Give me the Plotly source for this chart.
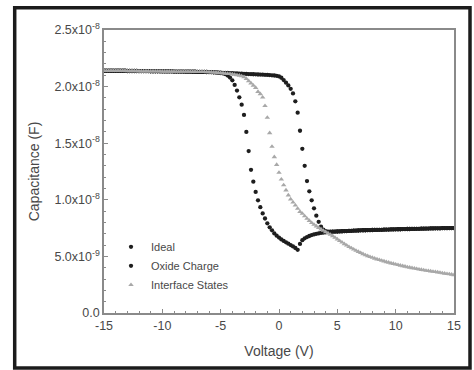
import numpy as np
import plotly.graph_objects as go

# Voltage sweep (V), step 0.2 V
voltage = [
    -15.0, -14.8, -14.6, -14.4, -14.2, -14.0, -13.8, -13.6, -13.4, -13.2,
    -13.0, -12.8, -12.6, -12.4, -12.2, -12.0, -11.8, -11.6, -11.4, -11.2,
    -11.0, -10.8, -10.6, -10.4, -10.2, -10.0, -9.8, -9.6, -9.4, -9.2,
    -9.0, -8.8, -8.6, -8.4, -8.2, -8.0, -7.8, -7.6, -7.4, -7.2,
    -7.0, -6.8, -6.6, -6.4, -6.2, -6.0, -5.8, -5.6, -5.4, -5.2,
    -5.0, -4.8, -4.6, -4.4, -4.2, -4.0, -3.8, -3.6, -3.4, -3.2,
    -3.0, -2.8, -2.6, -2.4, -2.2, -2.0, -1.8, -1.6, -1.4, -1.2,
    -1.0, -0.8, -0.6, -0.4, -0.2, 0.0, 0.2, 0.4, 0.6, 0.8,
    1.0, 1.2, 1.4, 1.6, 1.8, 2.0, 2.2, 2.4, 2.6, 2.8,
    3.0, 3.2, 3.4, 3.6, 3.8, 4.0, 4.2, 4.4, 4.6, 4.8,
    5.0, 5.2, 5.4, 5.6, 5.8, 6.0, 6.2, 6.4, 6.6, 6.8,
    7.0, 7.2, 7.4, 7.6, 7.8, 8.0, 8.2, 8.4, 8.6, 8.8,
    9.0, 9.2, 9.4, 9.6, 9.8, 10.0, 10.2, 10.4, 10.6, 10.8,
    11.0, 11.2, 11.4, 11.6, 11.8, 12.0, 12.2, 12.4, 12.6, 12.8,
    13.0, 13.2, 13.4, 13.6, 13.8, 14.0, 14.2, 14.4, 14.6, 14.8,
    15.0,
]

# Capacitance in units of 1e-8 F
ideal = [
    2.14, 2.14, 2.14, 2.14, 2.14, 2.14, 2.14, 2.14, 2.14, 2.14,
    2.138, 2.138, 2.138, 2.138, 2.138, 2.136, 2.136, 2.136, 2.136, 2.136,
    2.135, 2.135, 2.135, 2.135, 2.135, 2.134, 2.134, 2.134, 2.134, 2.134,
    2.133, 2.133, 2.133, 2.133, 2.133, 2.132, 2.132, 2.132, 2.131, 2.131,
    2.13, 2.13, 2.13, 2.13, 2.129, 2.128, 2.127, 2.126, 2.125, 2.123,
    2.12, 2.116, 2.11, 2.098, 2.08, 2.055, 2.015, 1.965, 1.905, 1.84,
    1.75, 1.60, 1.43, 1.265, 1.16, 1.07, 0.995, 0.935, 0.88, 0.835,
    0.792, 0.757, 0.73, 0.703, 0.683, 0.666, 0.65, 0.637, 0.624, 0.612,
    0.60, 0.588, 0.574, 0.558, 0.61, 0.643, 0.66, 0.671, 0.68, 0.688,
    0.694, 0.699, 0.703, 0.707, 0.71, 0.713, 0.715, 0.717, 0.718, 0.719,
    0.72, 0.721, 0.722, 0.723, 0.724, 0.725, 0.726, 0.727, 0.728, 0.729,
    0.73, 0.731, 0.731, 0.732, 0.732, 0.733, 0.734, 0.734, 0.735, 0.735,
    0.736, 0.737, 0.737, 0.738, 0.738, 0.739, 0.74, 0.74, 0.741, 0.741,
    0.742, 0.742, 0.743, 0.743, 0.744, 0.744, 0.745, 0.745, 0.746, 0.746,
    0.747, 0.747, 0.748, 0.748, 0.748, 0.749, 0.749, 0.749, 0.75, 0.75,
    0.75,
]

oxide_charge = [
    2.14, 2.14, 2.14, 2.14, 2.14, 2.14, 2.14, 2.14, 2.14, 2.14,
    2.138, 2.138, 2.138, 2.138, 2.138, 2.136, 2.136, 2.136, 2.136, 2.136,
    2.135, 2.135, 2.135, 2.135, 2.135, 2.134, 2.134, 2.134, 2.134, 2.134,
    2.133, 2.133, 2.133, 2.133, 2.133, 2.132, 2.132, 2.132, 2.131, 2.131,
    2.13, 2.13, 2.13, 2.13, 2.129, 2.128, 2.127, 2.126, 2.125, 2.124,
    2.123, 2.122, 2.121, 2.12, 2.119, 2.118, 2.117, 2.116, 2.115, 2.114,
    2.113, 2.112, 2.111, 2.11, 2.109, 2.108, 2.107, 2.106, 2.105, 2.104,
    2.103, 2.102, 2.10, 2.098, 2.095, 2.09, 2.078, 2.058, 2.035, 2.01,
    1.98, 1.94, 1.87, 1.77, 1.61, 1.45, 1.30, 1.165, 1.075, 0.995,
    0.925, 0.86, 0.805, 0.762, 0.737, 0.724, 0.719, 0.718, 0.718, 0.719,
    0.72, 0.721, 0.722, 0.723, 0.724, 0.725, 0.726, 0.727, 0.728, 0.729,
    0.73, 0.731, 0.731, 0.732, 0.732, 0.733, 0.734, 0.734, 0.735, 0.735,
    0.736, 0.737, 0.737, 0.738, 0.738, 0.739, 0.74, 0.74, 0.741, 0.741,
    0.742, 0.742, 0.743, 0.743, 0.744, 0.744, 0.745, 0.745, 0.746, 0.746,
    0.747, 0.747, 0.748, 0.748, 0.748, 0.749, 0.749, 0.749, 0.75, 0.75,
    0.75,
]

interface_states = [
    2.14, 2.14, 2.14, 2.14, 2.14, 2.14, 2.14, 2.14, 2.14, 2.14,
    2.138, 2.138, 2.138, 2.138, 2.138, 2.136, 2.136, 2.136, 2.136, 2.136,
    2.135, 2.135, 2.135, 2.135, 2.135, 2.134, 2.134, 2.134, 2.134, 2.134,
    2.133, 2.133, 2.133, 2.133, 2.133, 2.132, 2.132, 2.132, 2.131, 2.131,
    2.13, 2.13, 2.13, 2.13, 2.129, 2.128, 2.127, 2.126, 2.125, 2.123,
    2.12, 2.118, 2.116, 2.114, 2.112, 2.11, 2.106, 2.102, 2.098, 2.093,
    2.085, 2.07, 2.05, 2.03, 2.01, 1.99, 1.955, 1.935, 1.905, 1.83,
    1.726, 1.59, 1.47, 1.378, 1.31, 1.24, 1.18, 1.13, 1.085, 1.04,
    1.005, 0.978, 0.951, 0.922, 0.895, 0.878, 0.856, 0.834, 0.815, 0.797,
    0.781, 0.767, 0.753, 0.74, 0.728, 0.716, 0.705, 0.693, 0.68, 0.666,
    0.652, 0.638, 0.624, 0.61, 0.597, 0.585, 0.573, 0.562, 0.551, 0.541,
    0.531, 0.521, 0.512, 0.504, 0.496, 0.489, 0.482, 0.475, 0.469, 0.463,
    0.457, 0.451, 0.446, 0.44, 0.435, 0.43, 0.425, 0.42, 0.415, 0.411,
    0.406, 0.402, 0.398, 0.394, 0.39, 0.386, 0.382, 0.379, 0.375, 0.372,
    0.369, 0.366, 0.363, 0.36, 0.357, 0.352, 0.349, 0.346, 0.343, 0.34,
    0.336,
]

x_tick_vals = [-15, -10, -5, 0, 5, 10, 15]
x_tick_text = ["-15", "-10", "-5", "0", "5", "10", "15"]
y_tick_vals = [0, 0.5e-8, 1.0e-8, 1.5e-8, 2.0e-8, 2.5e-8]
y_tick_text = ["0.0", "5.0x10<sup>-9</sup>", "1.0x10<sup>-8</sup>",
               "1.5x10<sup>-8</sup>", "2.0x10<sup>-8</sup>", "2.5x10<sup>-8</sup>"]

scale = 1e-8
FONT = "Liberation Sans, Arial, sans-serif"
TXT = "#484848"
AX = "#8a8a8a"

fig = go.Figure()
fig.add_trace(go.Scatter(
    x=voltage, y=np.array(ideal) * scale, mode="markers", name="Ideal",
    marker=dict(symbol="circle", size=4.3, color="#1e1e1e", line=dict(width=0)),
))
fig.add_trace(go.Scatter(
    x=voltage, y=np.array(oxide_charge) * scale, mode="markers", name="Oxide Charge",
    marker=dict(symbol="circle", size=4.3, color="#1e1e1e", line=dict(width=0)),
))
fig.add_trace(go.Scatter(
    x=voltage, y=np.array(interface_states) * scale, mode="markers", name="Interface States",
    marker=dict(symbol="triangle-up", size=4.8, color="#a8a8a8", line=dict(width=0)),
))

fig.update_layout(
    width=474, height=370,
    margin=dict(l=104, r=20, t=30, b=57),
    paper_bgcolor="white", plot_bgcolor="white",
    font=dict(family=FONT, color=TXT, size=11),
    showlegend=True,
    legend=dict(
        x=0.02, y=0.285, xanchor="left", yanchor="top",
        bgcolor="rgba(0,0,0,0)", font=dict(size=11, color=TXT, family=FONT),
        tracegroupgap=0, itemwidth=30,
    ),
    xaxis=dict(
        range=[-15, 15], tickvals=x_tick_vals, ticktext=x_tick_text,
        showline=True, linecolor=AX, linewidth=1.5, mirror=True,
        ticks="inside", ticklen=4, tickcolor=AX, tickwidth=1,
        minor=dict(ticks="inside", dtick=1, ticklen=2, tickcolor=AX, tickwidth=1),
        showgrid=False, zeroline=False,
        tickfont=dict(size=12.5, color=TXT, family=FONT),
        title=dict(text="Voltage (V)", font=dict(size=14, color=TXT, family=FONT), standoff=14),
    ),
    yaxis=dict(
        range=[0, 2.5e-8], tickvals=y_tick_vals, ticktext=y_tick_text,
        showline=True, linecolor=AX, linewidth=1.5, mirror=True,
        ticks="inside", ticklen=4, tickcolor=AX, tickwidth=1,
        minor=dict(ticks="inside", dtick=0.1e-8, ticklen=2, tickcolor=AX, tickwidth=1),
        showgrid=False, zeroline=False,
        tickfont=dict(size=12.5, color=TXT, family=FONT),
        title=dict(text="Capacitance (F)", font=dict(size=14, color=TXT, family=FONT), standoff=12),
    ),
)

# Outer black frame around the whole picture
fig.add_shape(type="rect", xref="paper", yref="paper",
              x0=(14.7 - 104) / 350, x1=(470 - 104) / 350,
              y0=(313 - 368) / 283, y1=(313 - 7.7) / 283,
              line=dict(color="#1c1c1c", width=3.5), fillcolor="rgba(0,0,0,0)", layer="above")

fig.write_html("out.html")
